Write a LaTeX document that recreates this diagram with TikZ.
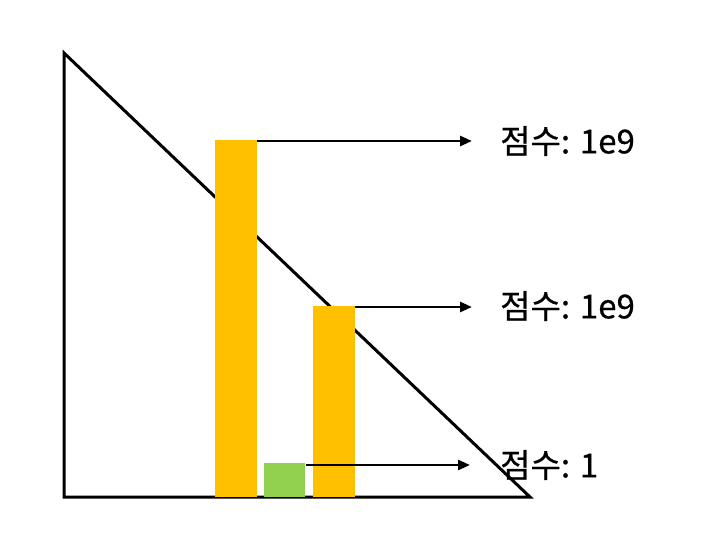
\documentclass[tikz,border=0pt]{standalone}
\usepackage{fontspec}
\setmainfont{Noto Sans CJK KR}
\newfontfamily\scorefont{Noto Sans CJK KR}[FakeBold=0.6]
\usetikzlibrary{arrows.meta}
\definecolor{barorange}{HTML}{FFC000}
\definecolor{bargreen}{HTML}{92D050}
\tikzset{
	bar/.style={fill=#1, draw=none, inner sep=0pt, outer sep=0pt, anchor=south west},
	pointer/.style={line width=2.7pt, -{Triangle[length=12pt, width=10pt]}},
	score/.style={anchor=west, inner sep=0pt, font=\scorefont\fontsize{33}{38}\selectfont}
}
\begin{document}
\begin{tikzpicture}[x=1pt, y=-1pt]
	\useasboundingbox (0,0) rectangle (721,550);
	% triangle
	\draw[line width=3pt] (64,53)--(64,497)--(530,497)--cycle;
	% bars
	\node[bar=barorange, minimum width=42pt, minimum height=357pt] (b1) at (215,497) {};
	\node[bar=barorange, minimum width=42pt, minimum height=191pt] (b2) at (313,497) {};
	\node[bar=bargreen, minimum width=41pt, minimum height=34pt] (b3) at (264,497) {};
	% scores
	\coordinate (e1) at (472,141);
	\coordinate (e2) at (472,307);
	\coordinate (e3) at (470,465);
	\node[score] (s1) at (500,141) {점수: 1e9};
	\node[score] (s2) at (500,306) {점수: 1e9};
	\node[score] (s3) at (500,465) {점수: 1};
	\draw[pointer] (b1.east|-e1) -- (e1);
	\draw[pointer] (b2.east|-e2) -- (e2);
	\draw[pointer] (b3.east|-e3)++(1,0) -- (e3);
\end{tikzpicture}
\end{document}
